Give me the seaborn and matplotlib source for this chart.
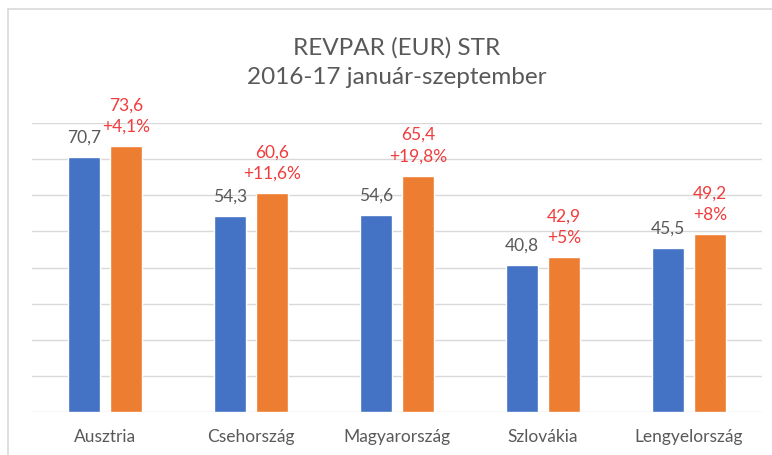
import matplotlib
matplotlib.use("Agg")
import matplotlib.pyplot as plt
import seaborn as sns
import pandas as pd
from matplotlib.lines import Line2D

countries = ["Ausztria", "Csehország", "Magyarország", "Szlovákia", "Lengyelország"]
rev_2016 = [70.7, 54.3, 54.6, 40.8, 45.5]
rev_2017 = [73.6, 60.6, 65.4, 42.9, 49.2]
changes = ["+4,1%", "+11,6%", "+19,8%", "+5%", "+8%"]
years = ["2016", "2017"]
title_lines = ["REVPAR (EUR) STR", "2016-17 január-szeptember"]
y_ticks = [0, 10, 20, 30, 40, 50, 60, 70, 80]

df = pd.DataFrame({
    "country": countries * 2,
    "value": rev_2016 + rev_2017,
    "year": [years[0]] * len(countries) + [years[1]] * len(countries),
})

sns.set_theme(style="white")
plt.rcParams["font.family"] = ["Lato", "DejaVu Sans"]

BLUE = "#4472C4"
ORANGE = "#ED7D31"
GRAY = "#595959"
RED = "#F03C3C"
GRID = "#D9D9D9"

fig = plt.figure(figsize=(7.72, 4.55), dpi=100)
ax = fig.add_axes([32 / 772, 43 / 455, 730 / 772, 289 / 455])

sns.barplot(data=df, x="country", y="value", hue="year", palette=[BLUE, ORANGE],
            width=0.575, gap=0.24, legend=False, ax=ax, saturation=1)

ax.set_ylim(0, 80)
ax.set_yticks(y_ticks)
ax.set_yticklabels([])
ax.tick_params(axis="y", length=0)
ax.tick_params(axis="x", length=0, pad=12, labelsize=12.5, labelcolor=GRAY)
ax.yaxis.grid(True, color=GRID, linewidth=1)
ax.set_axisbelow(True)
for s in ax.spines.values():
    s.set_visible(False)
ax.set_xlabel("")
ax.set_ylabel("")
ax.set_xlim(-0.5, len(countries) - 0.5)

c_old, c_new = ax.containers[0], ax.containers[1]
for bar, v in zip(c_old, rev_2016):
    ax.annotate(f"{v:.1f}".replace(".", ","),
                (bar.get_x() + bar.get_width() / 2, bar.get_height()),
                xytext=(0, 11), textcoords="offset pixels",
                ha="center", va="bottom", fontsize=12.5, color=GRAY)
for bar, v, ch in zip(c_new, rev_2017, changes):
    ax.annotate(f"{v:.1f}".replace(".", ",") + "\n" + ch,
                (bar.get_x() + bar.get_width() / 2, bar.get_height()),
                xytext=(0, 11), textcoords="offset pixels",
                ha="center", va="bottom", fontsize=12.5, color=RED,
                linespacing=1.45)

fig.text(397 / 772, 1 - 55 / 455, title_lines[0], ha="center", va="baseline",
         fontsize=17.5, color=GRAY)
fig.text(397 / 772, 1 - 84 / 455, title_lines[1], ha="center", va="baseline",
         fontsize=17.5, color=GRAY)

# chart border (top and left visible)
fig.add_artist(Line2D([8 / 772, 1.0], [1 - 9 / 455, 1 - 9 / 455],
                      transform=fig.transFigure, color=GRID, linewidth=1.2))
fig.add_artist(Line2D([8 / 772, 8 / 772], [0.0, 1 - 9 / 455],
                      transform=fig.transFigure, color=GRID, linewidth=1.2))

fig.savefig("out.png", dpi=100)
